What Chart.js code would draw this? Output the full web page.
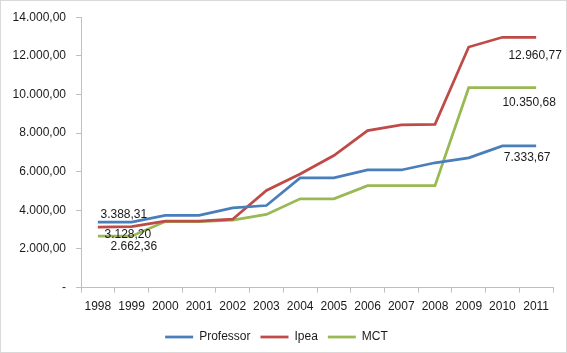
<!DOCTYPE html>
<html>
<head>
<meta charset="utf-8">
<script src="https://cdn.jsdelivr.net/npm/chart.js@4"></script>
<style>
  html, body { margin: 0; padding: 0; background: #fff; }
  #wrap { position: relative; width: 567px; height: 353px; }
  #frame { position: absolute; left: 0; top: 0; width: 565px; height: 351px; border: 1px solid #d9d9d9; pointer-events: none; }
  canvas { display: block; }
</style>
</head>
<body>
<div id="wrap">
  <canvas id="c" width="567" height="353"></canvas>
  <div id="frame"></div>
</div>
<script>
// ---- Data ----
const years = ['1998','1999','2000','2001','2002','2003','2004','2005','2006','2007','2008','2009','2010','2011'];
const professor = [3388.31, 3388.31, 3735, 3735, 4125, 4250, 5680, 5680, 6090, 6090, 6463, 6720, 7333.67, 7333.67];
const ipea      = [3128.20, 3155, 3445, 3440, 3540, 5030, 5880, 6840, 8130, 8420, 8450, 12455, 12960.77, 12960.77];
const mct       = [2662.36, 2662.36, 3420, 3415, 3490, 3790, 4595, 4595, 5276, 5276, 5276, 10350.68, 10350.68, 10350.68];
const seriesNames = ['Professor', 'Ipea', 'MCT'];
const yTicks = [0, 2000, 4000, 6000, 8000, 10000, 12000, 14000];

// data labels: which points get a value label (dataset index, point index)
const labelPoints = [[0, 0], [1, 0], [2, 0], [1, 13], [2, 13], [0, 13]];
// label placement offsets (style), same order as labelPoints
const labelOffsets = [[26, -7], [30, 8], [36, 11], [-1, 18], [-7, 15], [-9, 12]];

const colors = ['#4a7ebb', '#be4b48', '#98b954'];
const FONT = 'Arial, "Liberation Sans", sans-serif';

const fmt = v => v === 0 ? '-' : v.toLocaleString('pt-BR', {minimumFractionDigits: 2, maximumFractionDigits: 2});

const labelPlugin = {
  id: 'valueLabels',
  afterDatasetsDraw(chart) {
    const ctx = chart.ctx;
    ctx.save();
    ctx.font = '12px ' + FONT;
    ctx.fillStyle = '#1a1a1a';
    ctx.textAlign = 'center';
    ctx.textBaseline = 'middle';
    labelPoints.forEach(([d, i], k) => {
      const el = chart.getDatasetMeta(d).data[i];
      const v = chart.data.datasets[d].data[i];
      ctx.fillText(fmt(v), el.x + labelOffsets[k][0], el.y + labelOffsets[k][1]);
    });
    ctx.restore();
  }
};

new Chart(document.getElementById('c'), {
  type: 'line',
  data: {
    labels: years,
    datasets: [professor, ipea, mct].map((d, i) => ({
      label: seriesNames[i],
      data: d,
      borderColor: colors[i],
      backgroundColor: colors[i],
      borderWidth: 2.75,
      pointRadius: 0,
      pointHoverRadius: 0,
      tension: 0,
      fill: false,
      pointStyle: 'line'
    }))
  },
  options: {
    responsive: false,
    animation: false,
    layout: { padding: { left: 0, right: 14, top: 6, bottom: 0 } },
    plugins: {
      tooltip: { enabled: false },
      legend: {
        position: 'bottom',
        labels: {
          usePointStyle: true,
          pointStyle: 'line',
          pointStyleWidth: 28,
          boxHeight: 12,
          padding: 10,
          color: '#1a1a1a',
          font: { size: 12, family: FONT }
        }
      }
    },
    scales: {
      x: {
        offset: true,
        grid: { offset: true, drawOnChartArea: false, tickLength: 5, color: '#bfbfbf' },
        border: { color: '#bfbfbf', width: 1 },
        ticks: { color: '#1a1a1a', font: { size: 12, family: FONT }, padding: 7, maxRotation: 0, autoSkip: false }
      },
      y: {
        min: 0, max: 14000,
        afterBuildTicks: s => { s.ticks = yTicks.map(v => ({ value: v })); },
        afterFit: s => { s.width = 81; },
        grid: { drawOnChartArea: false, tickLength: 5, color: '#bfbfbf' },
        border: { color: '#bfbfbf', width: 1 },
        ticks: { color: '#1a1a1a', font: { size: 12, family: FONT }, padding: 10, callback: v => fmt(v) }
      }
    }
  },
  plugins: [labelPlugin]
});
</script>
</body>
</html>
